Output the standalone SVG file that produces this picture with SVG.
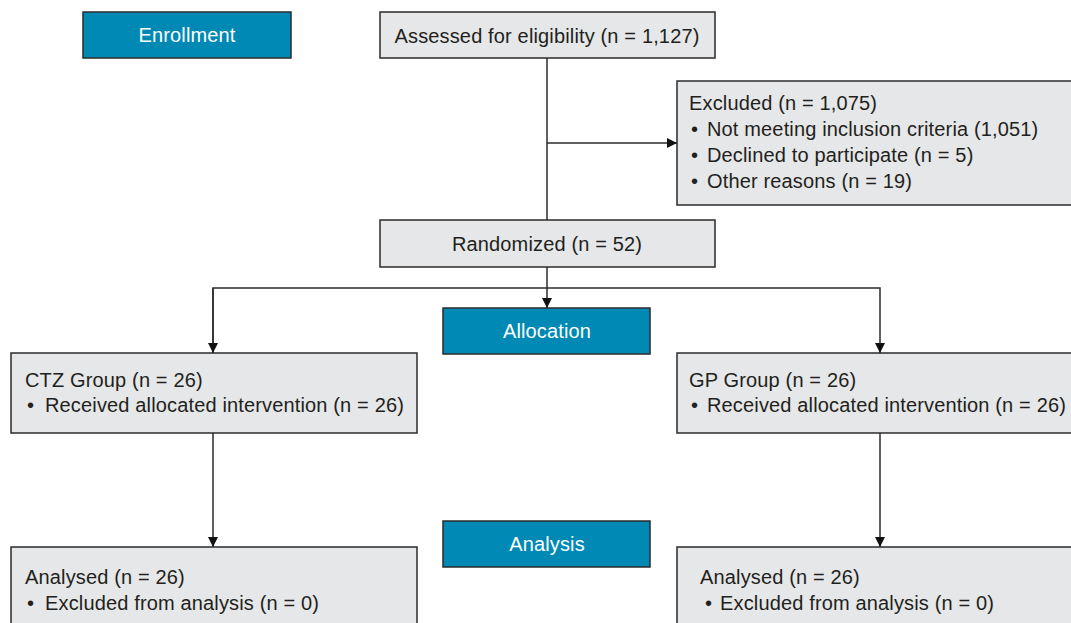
<svg xmlns="http://www.w3.org/2000/svg" width="1071" height="623" viewBox="0 0 1071 623">
<defs>
<style>
.box{fill:#e6e7e8;stroke:#2b2b2b;stroke-width:1.5}
.stage{fill:#0089b4;stroke:#2b2b2b;stroke-width:1.5}
text{font-family:"Liberation Sans",Arial,sans-serif;font-size:20px;letter-spacing:0.15px;fill:#231f20}
.st{fill:#ffffff;text-anchor:middle}
.c{text-anchor:middle}
.ln{fill:none;stroke:#2b2b2b;stroke-width:1.5}
</style>
<marker id="ah" viewBox="0 0 10 10" refX="10" refY="5" markerWidth="10" markerHeight="11" markerUnits="userSpaceOnUse" orient="auto">
<path d="M0,0 L10,5 L0,10 z" fill="#111"/>
</marker>
</defs>
<rect width="1071" height="623" fill="#ffffff"/>
<g id="connectors">
<path class="ln" d="M547,58 V220"/>
<path class="ln" d="M547,143 H677" marker-end="url(#ah)"/>
<path class="ln" d="M547,267 V308" marker-end="url(#ah)"/>
<path class="ln" d="M213,353 V288 H880 V353" marker-end="url(#ah)"/>
<path class="ln" d="M213,288 V353" marker-end="url(#ah)"/>
<path class="ln" d="M213,433 V547" marker-end="url(#ah)"/>
<path class="ln" d="M880,433 V547" marker-end="url(#ah)"/>
</g>
<g id="enrollment">
<rect class="stage" x="83" y="12" width="208" height="46"/>
<text class="st" x="187" y="42">Enrollment</text>
</g>
<g id="assessed">
<rect class="box" x="380" y="12" width="335" height="46"/>
<text class="c" x="547" y="43">Assessed for eligibility (n = 1,127)</text>
</g>
<g id="excluded">
<rect class="box" x="677" y="81" width="400" height="124"/>
<text x="689" y="110">Excluded (n = 1,075)</text>
<text y="136"><tspan x="691">•</tspan><tspan x="707">Not meeting inclusion criteria (1,051)</tspan></text>
<text y="162"><tspan x="691">•</tspan><tspan x="707">Declined to participate (n = 5)</tspan></text>
<text y="188"><tspan x="691">•</tspan><tspan x="707">Other reasons (n = 19)</tspan></text>
</g>
<g id="randomized">
<rect class="box" x="380" y="220" width="335" height="47"/>
<text class="c" x="547" y="251">Randomized (n = 52)</text>
</g>
<g id="allocation">
<rect class="stage" x="443" y="308" width="207" height="46"/>
<text class="st" x="547" y="338">Allocation</text>
</g>
<g id="ctz">
<rect class="box" x="11" y="353" width="406" height="80"/>
<text x="25" y="387">CTZ Group (n = 26)</text>
<text y="412"><tspan x="27">•</tspan><tspan x="45">Received allocated intervention (n = 26)</tspan></text>
</g>
<g id="gp">
<rect class="box" x="677" y="353" width="400" height="80"/>
<text x="689" y="387">GP Group (n = 26)</text>
<text y="412"><tspan x="691">•</tspan><tspan x="707">Received allocated intervention (n = 26)</tspan></text>
</g>
<g id="analysis">
<rect class="stage" x="443" y="521" width="207" height="46"/>
<text class="st" x="547" y="551">Analysis</text>
</g>
<g id="analysed-ctz">
<rect class="box" x="11" y="547" width="406" height="90"/>
<text x="25" y="584">Analysed (n = 26)</text>
<text y="610"><tspan x="27">•</tspan><tspan x="45">Excluded from analysis (n = 0)</tspan></text>
</g>
<g id="analysed-gp">
<rect class="box" x="677" y="547" width="400" height="90"/>
<text x="700" y="584">Analysed (n = 26)</text>
<text y="610"><tspan x="705">•</tspan><tspan x="720">Excluded from analysis (n = 0)</tspan></text>
</g>
</svg>
